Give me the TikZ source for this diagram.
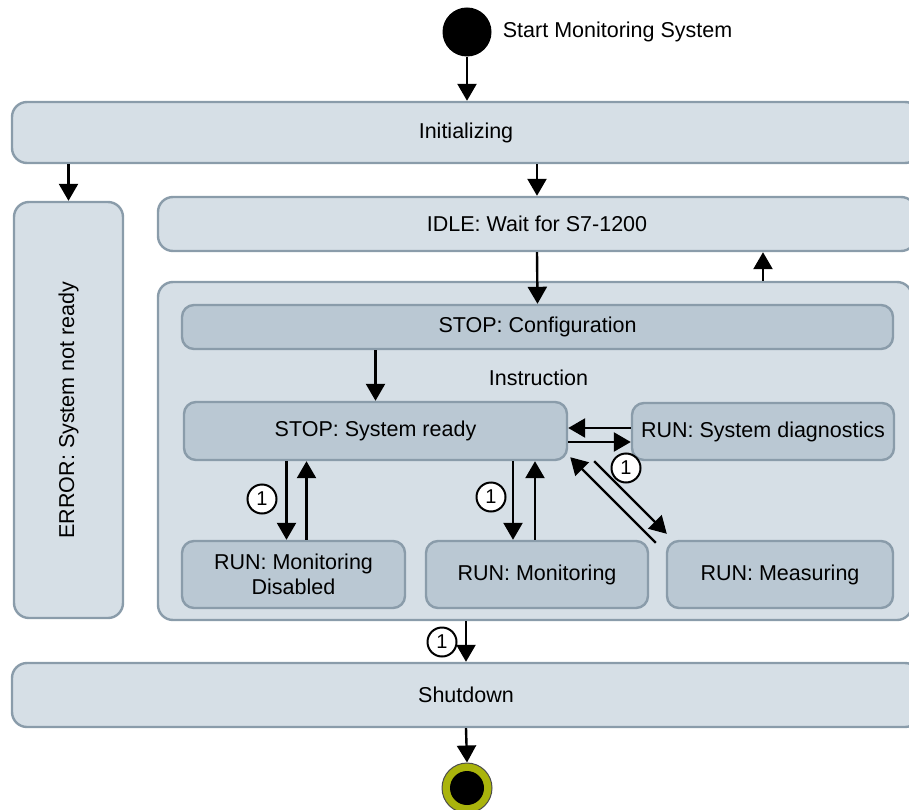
\documentclass[tikz,border=0pt]{standalone}
\usepackage{fontspec}
\setmainfont{Liberation Sans}
\usetikzlibrary{arrows.meta,calc}
\definecolor{ofill}{HTML}{D6DFE6}
\definecolor{ifill}{HTML}{BAC8D3}
\definecolor{bord}{HTML}{8A9CAA}
\definecolor{ring}{HTML}{AAB40C}
\begin{document}
\begin{tikzpicture}[x=1pt,y=-1pt,
  every node/.style={font=\fontsize{21.5}{25}\selectfont},
  obox/.style={draw=bord,fill=ofill,line width=2.4pt,rounded corners=15pt,inner sep=0pt},
  ibox/.style={draw=bord,fill=ifill,line width=2.4pt,rounded corners=12pt,inner sep=0pt,align=center},
  arr/.style={line width=2.4pt,-{Triangle[length=17pt,width=19pt]}},
  num/.style={circle,draw=black,line width=2pt,fill=white,minimum size=29pt,inner sep=0pt,font=\fontsize{20}{20}\selectfont},
]
\useasboundingbox (0,0) rectangle (909,810);
\clip (0,0) rectangle (909,810);

% start
\node[circle,fill=black,minimum size=49pt,inner sep=0pt] (start) at (467,32) {};
\node[anchor=west,inner sep=0pt] (startlbl) at ([xshift=11pt]start.east) {Start Monitoring System};

% outer boxes
\node[obox,minimum width=908pt,minimum height=61pt] (init) at (466,132.5) {Initializing};
\node[obox,minimum width=109pt,minimum height=416pt] (err) at (68.5,410) {};
\node[rotate=90] (errlbl) at (err.center) {ERROR: System not ready};
\node[obox,minimum width=758pt,minimum height=54pt] (idle) at (537,224) {IDLE: Wait for S7-1200};
\node[obox,minimum width=754pt,minimum height=338pt] (cont) at (535,451) {};
\node (instr) at (538.5,378) {Instruction};

% inner boxes
\node[ibox,minimum width=711pt,minimum height=44pt] (config) at (537.5,327) {STOP: Configuration};
\node[ibox,minimum width=383pt,minimum height=58pt] (ready) at (375.5,431) {STOP: System ready};
\node[ibox,minimum width=262pt,minimum height=57pt] (diag) at (763,431.5) {RUN: System diagnostics};
\node[ibox,minimum width=223pt,minimum height=67pt] (md) at (293.5,574.5) {RUN: Monitoring\\Disabled};
\node[ibox,minimum width=222pt,minimum height=67pt] (mon) at (537,574.5) {RUN: Monitoring};
\node[ibox,minimum width=226pt,minimum height=67pt] (meas) at (780,574.5) {RUN: Measuring};

\node[obox,minimum width=908pt,minimum height=64pt] (shut) at (466,695) {Shutdown};

% end
\node[circle,fill=ring,draw=black!70,line width=1pt,minimum size=50pt,inner sep=0pt] (endc) at (467,788) {};
\node[circle,fill=black,minimum size=34pt,inner sep=0pt] (endin) at (endc.center) {};

% arrows
\draw[arr] (start.south) -- (start.south |- init.north);
\draw[arr] (err.north |- init.south) -- (err.north);
\draw[arr] (idle.north |- init.south) -- (idle.north);
\draw[arr] (idle.south) -- (config.north);
\draw[arr] (diag.north |- cont.north) -- (diag.north |- idle.south);
\draw[arr] (ready.north |- config.south) -- (ready.north);

\coordinate (mdd) at ([xshift=-7pt]md.north);
\coordinate (mdu) at ([xshift=13pt]md.north);
\draw[arr] (mdd |- ready.south) -- (mdd);
\draw[arr] (mdu) -- (mdu |- ready.south);

\coordinate (mnd) at ([xshift=-24pt]mon.north);
\coordinate (mnu) at ([xshift=-2pt]mon.north);
\draw[arr] (mnd |- ready.south) -- (mnd);
\draw[arr] (mnu) -- (mnu |- ready.south);

\coordinate (dl) at ([yshift=3.5pt]diag.west);
\coordinate (dr) at ([yshift=-10.5pt]diag.west);
\draw[arr] (dl) -- (dl -| ready.east);
\draw[arr] (dr -| ready.east) -- (dr);

\coordinate (ms1) at ([xshift=26pt]ready.south east);
\coordinate (ms2) at ([xshift=1pt,yshift=6pt]meas.north west);
\draw[arr] (ms1) -- (ms2);
\coordinate (mr1) at ([xshift=-10pt,yshift=-3pt]meas.north west);
\coordinate (mr2) at ([xshift=2pt,yshift=4pt]ready.south east);
\draw[arr] (mr1) -- (mr2);

\draw[arr] (shut.north |- cont.south) -- (shut.north);
\draw[arr] (shut.south) -- (endc.north);

% condition markers
\node[num] (n1) at (262,499) {1};
\node[num] (n2) at (491,497) {1};
\node[num] (n3) at (626,468) {1};
\node[num] (n4) at (442,642) {1};
\end{tikzpicture}
\end{document}
